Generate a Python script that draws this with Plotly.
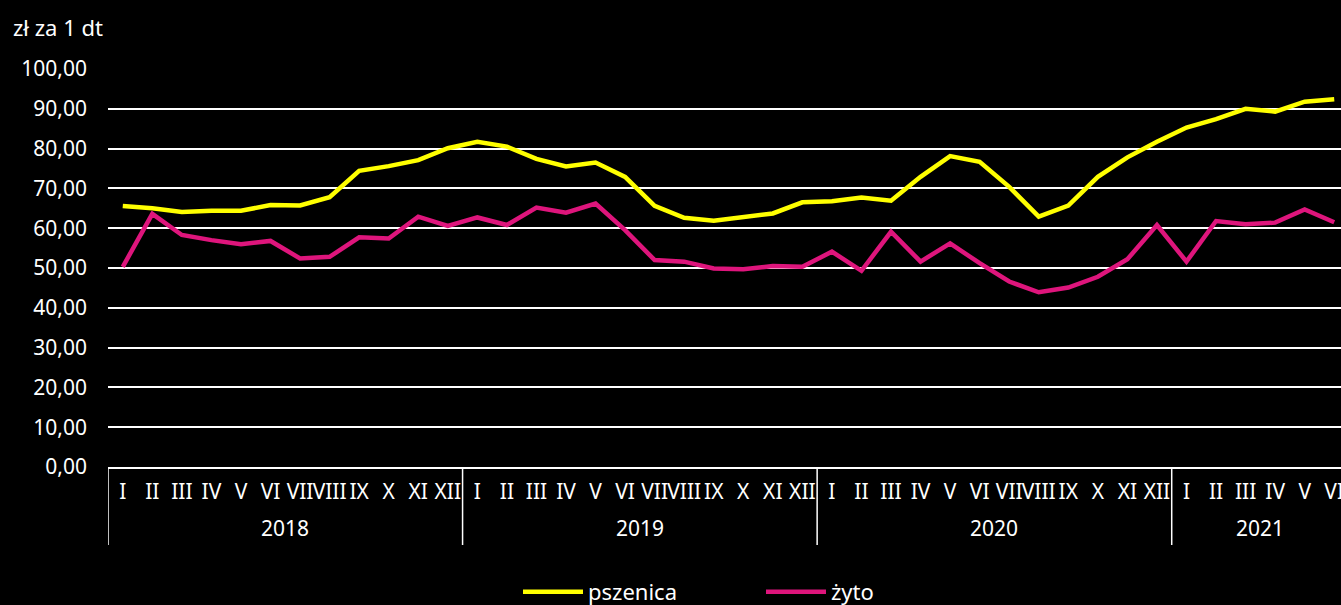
import plotly.graph_objects as go

years = ["2018"] * 12 + ["2019"] * 12 + ["2020"] * 12 + ["2021"] * 6
month_names = ["I", "II", "III", "IV", "V", "VI", "VII", "VIII", "IX", "X", "XI", "XII"]
months = month_names * 3 + month_names[:6]

pszenica = [65.6, 65.0, 64.1, 64.4, 64.4, 65.8, 65.7, 67.8, 74.4, 75.6, 77.1, 80.1,
            81.7, 80.5, 77.4, 75.5, 76.5, 72.9, 65.6, 62.6, 61.9, 62.9, 63.7, 66.5,
            66.8, 67.7, 66.9, 72.9, 78.1, 76.7, 70.4, 62.9, 65.7, 72.9, 77.8, 81.7,
            85.3, 87.4, 90.0, 89.3, 91.8, 92.4]
zyto = [50.3, 63.6, 58.3, 57.0, 56.0, 56.8, 52.4, 52.8, 57.7, 57.4, 62.9, 60.6,
        62.7, 60.8, 65.2, 63.9, 66.2, 59.5, 52.0, 51.6, 49.9, 49.7, 50.5, 50.3,
        54.1, 49.3, 59.1, 51.6, 56.2, 51.2, 46.6, 43.9, 45.1, 47.8, 52.2, 60.8,
        51.6, 61.8, 61.0, 61.4, 64.7, 61.5]

y_ticks = [0, 10, 20, 30, 40, 50, 60, 70, 80, 90, 100]
y_tick_text = ["0,00", "10,00", "20,00", "30,00", "40,00", "50,00", "60,00",
               "70,00", "80,00", "90,00", "100,00"]

FONT = "Noto Sans"
W, H = 1349, 613
ML, MR, MT = 108, 0, 69
MB = H - 467
PW, PH = W - ML - MR, H - MT - MB
n = len(months)
idx = list(range(n))

fig = go.Figure()
fig.add_trace(go.Scatter(x=idx, y=pszenica, mode="lines", name="pszenica",
                         line=dict(color="#FFFF00", width=4.5)))
fig.add_trace(go.Scatter(x=idx, y=zyto, mode="lines", name="żyto",
                         line=dict(color="#DE157C", width=4.5)))

# year groups: dividers and labels below the month labels
div_len = -(545 - 467) / PH
starts = [i for i in idx if i == 0 or years[i] != years[i - 1]]
ends = starts[1:] + [n]
shapes = [dict(type="line", xref="x", yref="paper", x0=s - 0.5, x1=s - 0.5,
               y0=0, y1=div_len, line=dict(color="#FFFFFF", width=1.5)) for s in starts]
annotations = [dict(text=years[s], x=(s + e - 1) / 2, xref="x", yref="paper",
                    y=-(528 - 467) / PH, yanchor="middle", showarrow=False,
                    font=dict(size=21, color="#FFFFFF"))
               for s, e in zip(starts, ends)]
annotations.append(dict(text="zł za 1 dt", x=(11 - ML) / PW, xanchor="left",
                        y=1 + (MT - 27) / PH, yanchor="middle",
                        xref="paper", yref="paper", showarrow=False,
                        font=dict(size=22, color="#FFFFFF")))

fig.update_layout(
    width=W, height=H,
    paper_bgcolor="#000000", plot_bgcolor="#000000",
    margin=dict(l=ML, r=MR, t=MT, b=MB),
    font=dict(family=FONT, size=21, color="#FFFFFF"),
    showlegend=True,
    legend=dict(orientation="h", x=(518 - ML) / PW, xanchor="left",
                y=-MB / PH, yanchor="bottom", itemwidth=60,
                font=dict(size=22, color="#FFFFFF"), bgcolor="rgba(0,0,0,0)",
                entrywidth=168, entrywidthmode="pixels"),
    annotations=annotations,
    shapes=shapes,
)

fig.update_xaxes(type="linear", range=[-0.5, n - 0.5], tickvals=idx, ticktext=months,
                 showgrid=False, showline=True, linecolor="#FFFFFF", linewidth=1.5,
                 tickangle=0, ticks="", ticklabelstandoff=5, zeroline=False,
                 tickfont=dict(size=21, color="#FFFFFF"))
fig.update_yaxes(range=[0, 100], tickvals=y_ticks, ticktext=y_tick_text, showgrid=True,
                 gridcolor="#FFFFFF", gridwidth=1.5, zeroline=False, showline=False,
                 ticks="", ticklabelstandoff=20,
                 tickfont=dict(size=21, color="#FFFFFF"))

fig.write_html("out.html", config={"displayModeBar": False},
               post_script="document.body.style.margin='0';document.body.style.overflow='hidden';")
